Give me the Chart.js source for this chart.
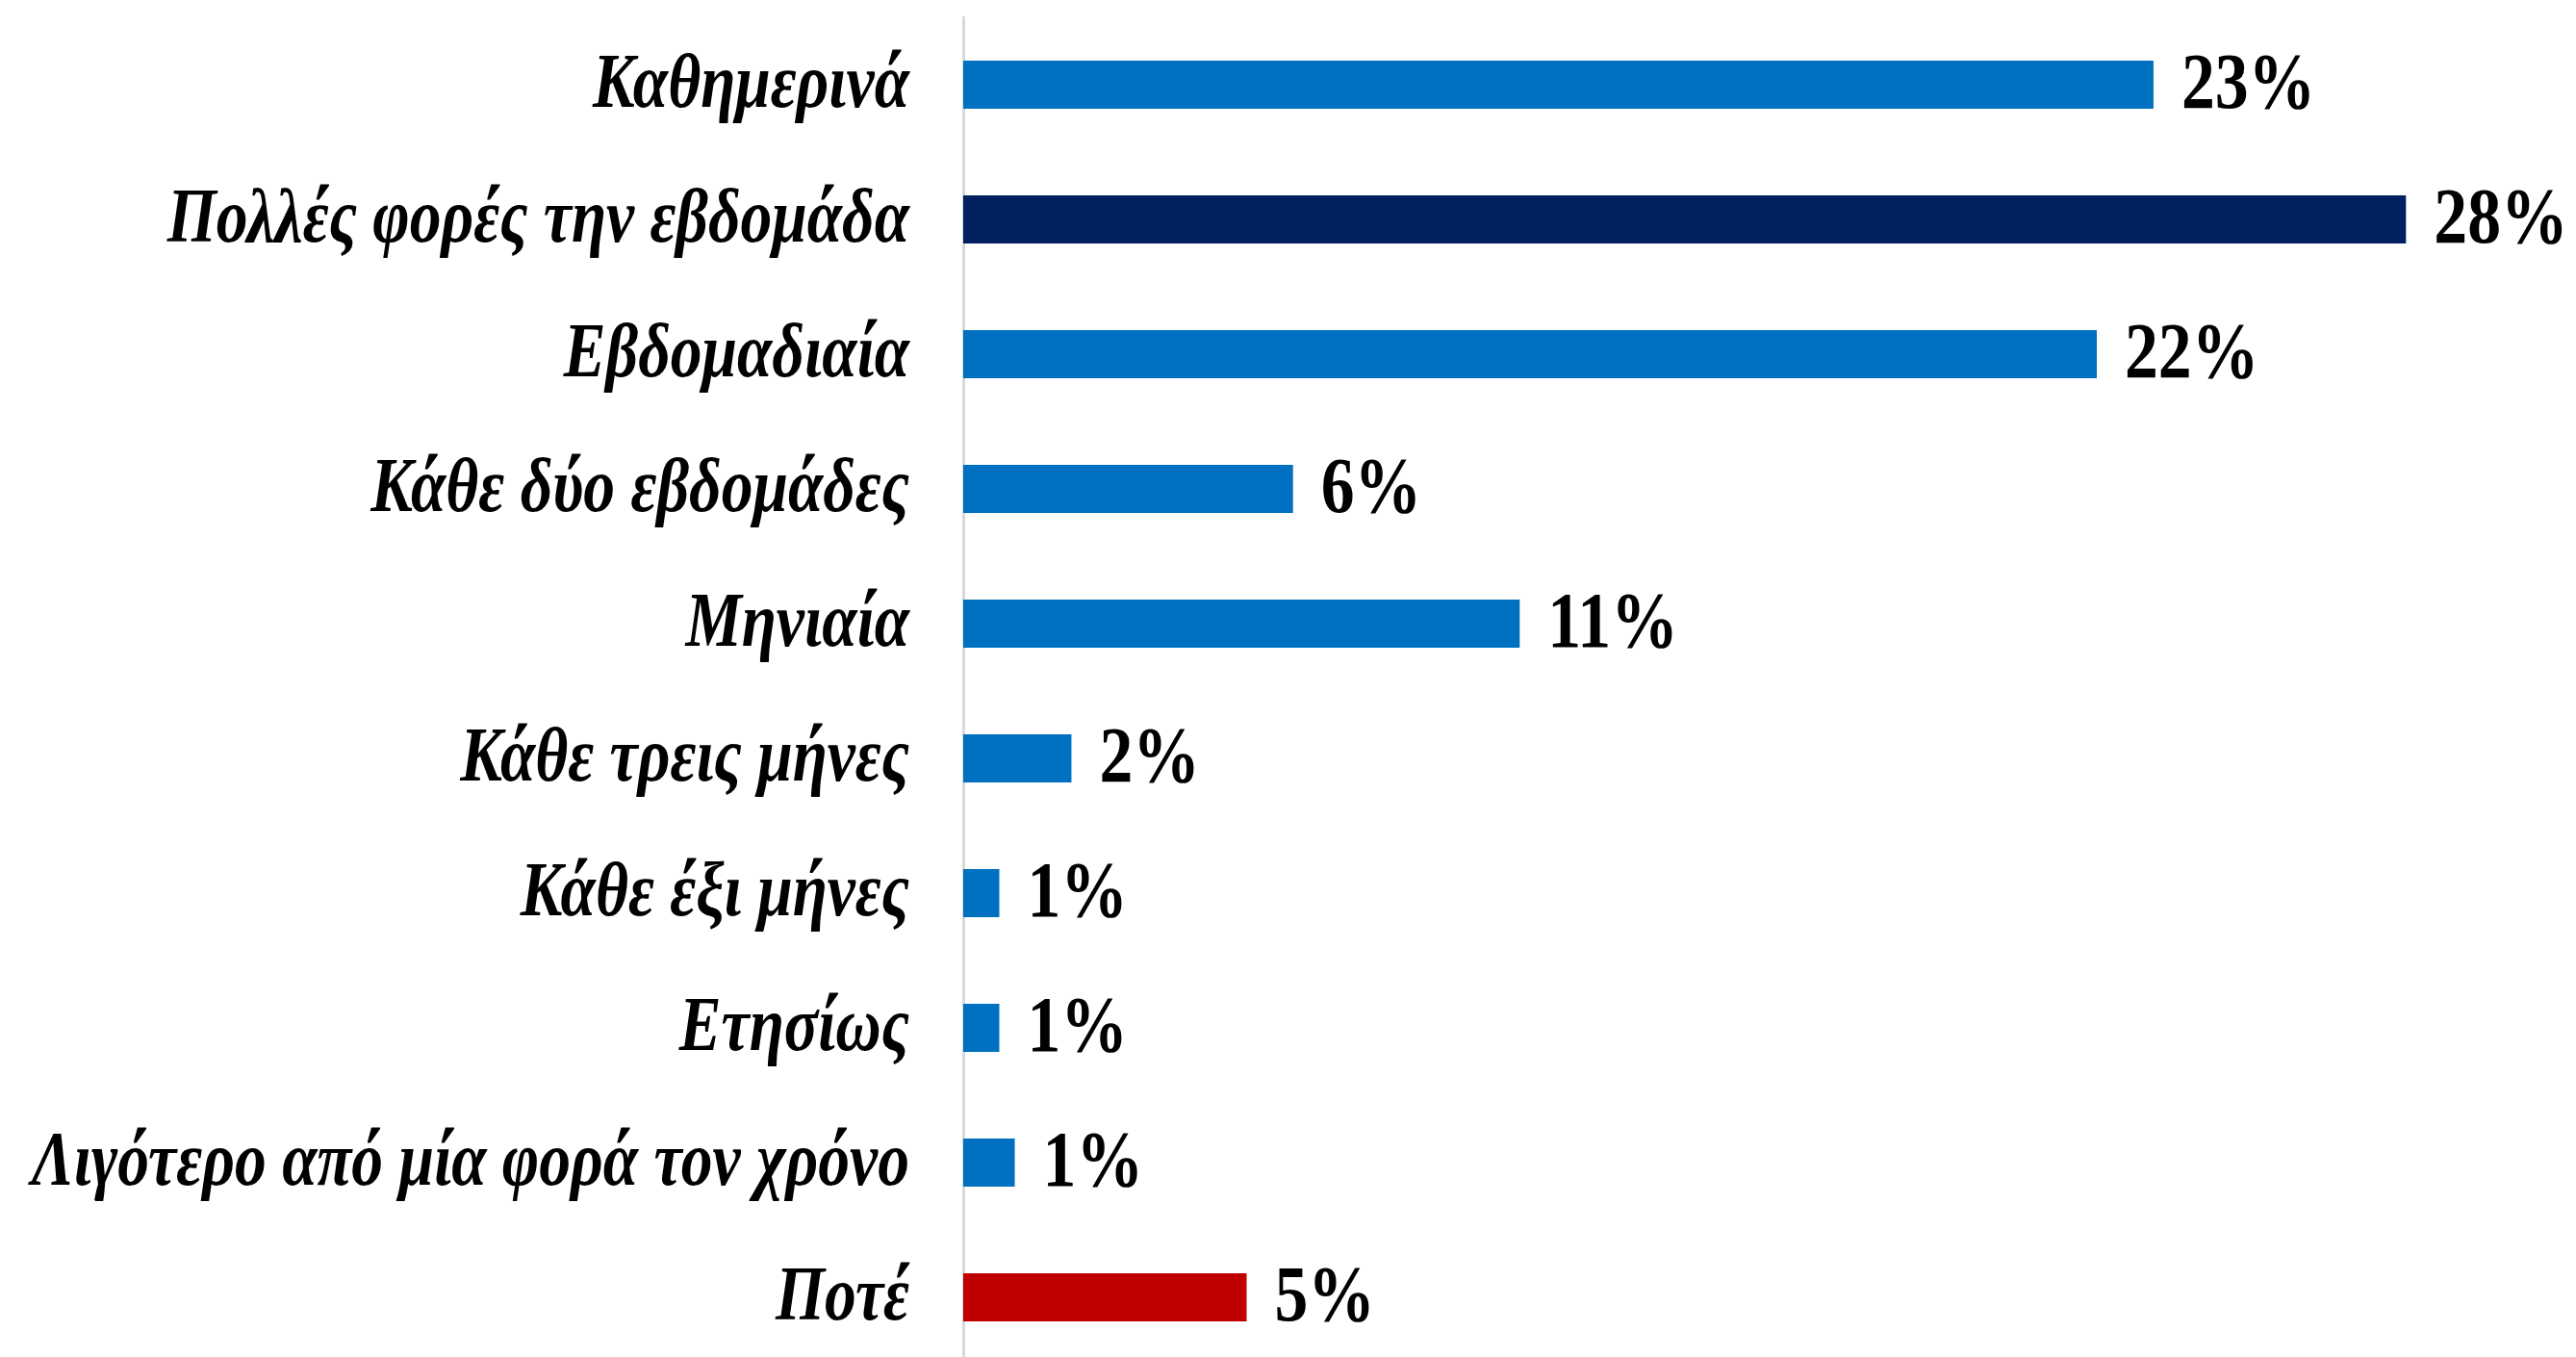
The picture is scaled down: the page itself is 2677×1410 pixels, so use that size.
<!DOCTYPE html>
<html>
<head>
<meta charset="utf-8">
<script src="https://cdn.jsdelivr.net/npm/chart.js@4.4.1/dist/chart.umd.min.js"></script>
<style>
  html, body { margin: 0; padding: 0; background: #ffffff; overflow: hidden; }
  #wrap { width: 2677px; height: 1418px; }
</style>
</head>
<body>
<div id="wrap"><canvas id="freqChart"></canvas></div>
<script>
// Frequency answers (percent)
const categories = [
    "Καθημερινά",
    "Πολλές φορές την εβδομάδα",
    "Εβδομαδιαία",
    "Κάθε δύο εβδομάδες",
    "Μηνιαία",
    "Κάθε τρεις μήνες",
    "Κάθε έξι μήνες",
    "Ετησίως",
    "Λιγότερο από μία φορά τον χρόνο",
    "Ποτέ"
];
const values = [23.1, 28.0, 22.0, 6.4, 10.8, 2.1, 0.7, 0.7, 1.0, 5.5];
const valueLabels = ["23%", "28%", "22%", "6%", "11%", "2%", "1%", "1%", "1%", "5%"];
const barColors = ["#0070C0", "#002060", "#0070C0", "#0070C0", "#0070C0",
                   "#0070C0", "#0070C0", "#0070C0", "#0070C0", "#C00000"];

// squeeze text a bit horizontally, the original font is narrower than Liberation Serif
const SQUEEZE_CAT = 0.82;
const SQUEEZE_VAL = 0.85;

const labelsPlugin = {
    id: "labelsPlugin",
    afterDatasetsDraw(chart) {
        const ctx = chart.ctx;
        const yScale = chart.scales.y;
        const meta = chart.getDatasetMeta(0);
        ctx.save();
        ctx.fillStyle = "#000000";
        ctx.textBaseline = "middle";

        // category names, right aligned left of the axis
        ctx.font = "italic bold 80px 'Liberation Serif', serif";
        ctx.textAlign = "right";
        categories.forEach((name, i) => {
            const y = yScale.getPixelForValue(i);
            ctx.save();
            ctx.translate(chart.chartArea.left - 56, y + 2);
            ctx.scale(SQUEEZE_CAT, 1);
            ctx.fillText(name, 0, 0);
            ctx.restore();
        });

        // value labels at the end of each bar
        ctx.font = "bold 82px 'Liberation Serif', serif";
        ctx.textAlign = "left";
        meta.data.forEach((bar, i) => {
            ctx.save();
            ctx.translate(bar.x + 29, bar.y + 3);
            ctx.scale(SQUEEZE_VAL, 1);
            ctx.fillText(valueLabels[i], 0, 0);
            ctx.restore();
        });
        ctx.restore();
    }
};

const ctx = document.getElementById("freqChart").getContext("2d");
new Chart(ctx, {
    type: "bar",
    data: {
        labels: categories,
        datasets: [{
            data: values,
            backgroundColor: barColors,
            borderWidth: 0,
            categoryPercentage: 1,
            barPercentage: 0.357
        }]
    },
    options: {
        indexAxis: "y",
        responsive: true,
        maintainAspectRatio: false,
        animation: false,
        layout: { padding: { left: 993, top: 18, right: 0, bottom: 0 } },
        plugins: {
            legend: { display: false },
            tooltip: { enabled: false }
        },
        scales: {
            x: {
                display: false,
                min: 0,
                max: 31.3
            },
            y: {
                grid: { display: false },
                ticks: { display: false },
                border: { display: true, color: "#D9D9D9", width: 3 }
            }
        }
    },
    plugins: [labelsPlugin]
});
</script>
</body>
</html>
